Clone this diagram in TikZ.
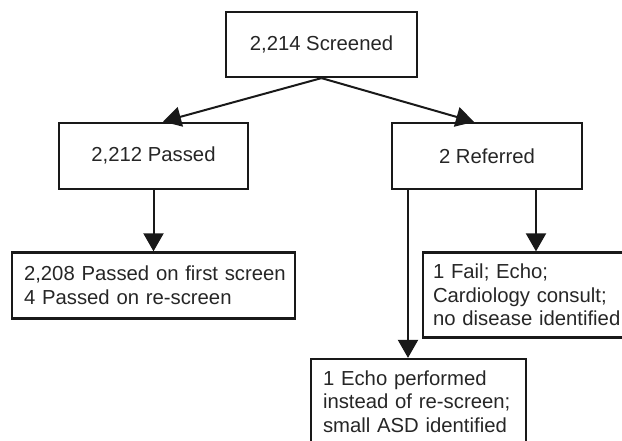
\documentclass[tikz,border=0pt]{standalone}
\usepackage{fontspec}
\setmainfont{Liberation Sans}
\usetikzlibrary{arrows.meta}
\begin{document}
\begin{tikzpicture}[x=1pt,y=-1pt,
  box/.style={draw=black!90, line width=2.2pt, rectangle, inner sep=0pt, text=black!85, font=\fontsize{20.3}{23.5}\selectfont},
  tbox/.style={box, align=left, inner xsep=12pt},
  arr/.style={draw=black!90, line width=2pt, -{Triangle[length=18pt,width=20pt]}}]
\clip (0,0) rectangle (622,440);
\node[box, minimum width=191pt, minimum height=65pt] (scr) at (321.5,44.5) {2,214 Screened};
\node[box, minimum width=189pt, minimum height=66pt] (pas) at (153.5,155.7) {2,212 Passed};
\node[box, minimum width=190pt, minimum height=66pt] (ref) at (487,156) {2 Referred};
\node[tbox, text width=259pt, minimum height=66pt] (first) at (153.5,285.4) {\mbox{2,208 Passed on first screen}\\\mbox{4 Passed on re-screen}};
\node[tbox, inner xsep=10pt, text width=187pt, minimum height=85pt] (fail) at (526.5,295) {\mbox{1 Fail; Echo;}\\\mbox{Cardiology consult;}\\\mbox{no disease identified}};
\node[tbox, text width=191pt, minimum height=85.4pt] (echo) at (418.5,401.7) {\mbox{1 Echo performed}\\\mbox{instead of re-screen;}\\\mbox{small ASD identified}};
\draw[arr] (scr.south) -- ([xshift=9.5pt]pas.north);
\draw[arr] (scr.south) -- ([xshift=-13pt]ref.north);
\draw[arr] (pas.south) -- (first.north);
\draw[arr] ([xshift=-79pt]ref.south) -- ([xshift=-79pt]ref.south |- echo.north);
\draw[arr] ([xshift=49pt]ref.south) -- ([xshift=49pt]ref.south |- fail.north);
\end{tikzpicture}
\end{document}
